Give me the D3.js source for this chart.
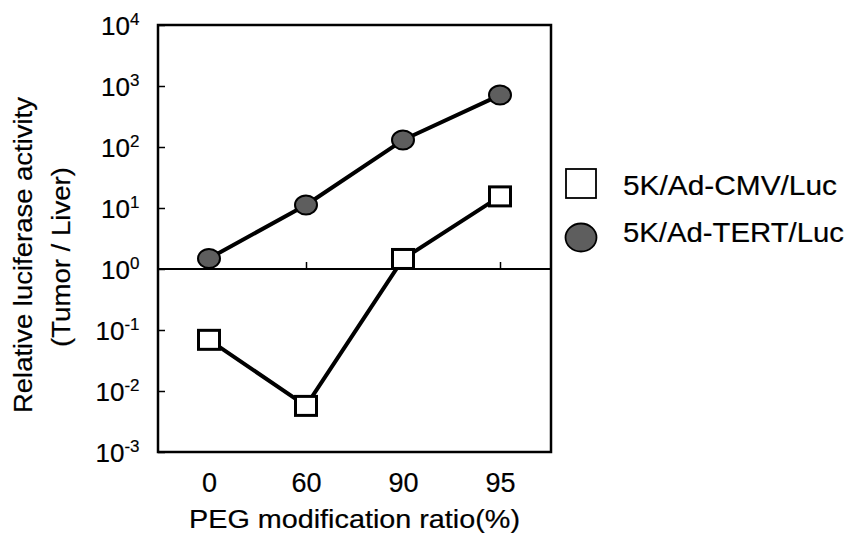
<!DOCTYPE html>
<html><head><meta charset="utf-8">
<script src="https://cdn.jsdelivr.net/npm/d3@7/dist/d3.min.js"></script>
<style>body{margin:0;background:#fff}svg{display:block}text{font-family:"Liberation Sans",Arial,sans-serif;fill:#000;stroke:#000;stroke-width:0.2px}</style>
</head><body>
<script>
const categories = ["0","60","90","95"];
const cmvValues  = [0.069, 0.0057, 1.46, 15.5];
const tertValues = [1.49, 11.2, 130, 710];
const yTickExps  = [4,3,2,1,0,-1,-2,-3];
const seriesNames = ["5K/Ad-CMV/Luc","5K/Ad-TERT/Luc"];
const xTitle = "PEG modification ratio(%)";
const yTitle1 = "Relative luciferase activity";
const yTitle2 = "(Tumor / Liver)";

const W=853,H=534;
const L=158,R=551,T=25,B=452;
const svg=d3.select("body").append("svg").attr("width",W).attr("height",H);

const x=d3.scalePoint().domain(categories).range([160.5,548.5]).padding(0.5);
const y=d3.scaleLog().domain([1e-3,1e4]).range([B,T]);

// frame
svg.append("rect").attr("x",L).attr("y",T).attr("width",R-L).attr("height",B-T)
  .attr("fill","none").attr("stroke","#000").attr("stroke-width",2.5);

// y axis ticks (inward)
const yAx=svg.append("g").attr("transform",`translate(${L},0)`)
  .call(d3.axisLeft(y).tickValues(yTickExps.map(e=>Math.pow(10,e))).tickSize(-7).tickFormat(""));
yAx.select(".domain").remove();
yAx.selectAll(".tick line").attr("stroke","#000").attr("stroke-width",1.5);

// y tick labels
yTickExps.forEach(e=>{
  const t=svg.append("text").attr("x",139.5).attr("y",y(Math.pow(10,e))+9.5)
    .attr("text-anchor","end").style("font-size","26px");
  t.append("tspan").text("10");
  t.append("tspan").style("font-size","17px").attr("dy",-9.5).text(String(e));
});

// horizontal line at 1 with x ticks
svg.append("line").attr("x1",L).attr("x2",R).attr("y1",y(1)).attr("y2",y(1))
  .attr("stroke","#000").attr("stroke-width",2);
const xAx=svg.append("g").attr("transform",`translate(0,${y(1)})`)
  .call(d3.axisTop(x).tickSize(7).tickFormat(""));
xAx.select(".domain").remove();
xAx.selectAll(".tick line").attr("stroke","#000").attr("stroke-width",1.5);

// x tick labels
const xb=svg.append("g").attr("transform",`translate(0,${B})`)
  .call(d3.axisBottom(x).tickSize(0).tickPadding(21));
xb.select(".domain").remove();
xb.selectAll("text").style("font-size","27px").style("font-family","'Liberation Sans', Arial, sans-serif").attr("fill","#000");

// axis titles
svg.append("text").attr("x",189).attr("y",528).style("font-size","25px")
  .attr("textLength",331).attr("lengthAdjust","spacingAndGlyphs").text(xTitle);
svg.append("text").attr("transform","translate(32,255) rotate(-90)").attr("text-anchor","middle")
  .style("font-size","25px").attr("textLength",316).attr("lengthAdjust","spacingAndGlyphs").text(yTitle1);
svg.append("text").attr("transform","translate(70,257) rotate(-90)").attr("text-anchor","middle")
  .style("font-size","25px").attr("textLength",180).attr("lengthAdjust","spacingAndGlyphs").text(yTitle2);

// lines
const line=d3.line().x((d,i)=>x(categories[i])).y(d=>y(d));
[cmvValues,tertValues].forEach(vals=>{
  svg.append("path").attr("d",line(vals)).attr("fill","none")
    .attr("stroke","#000").attr("stroke-width",4).attr("stroke-linejoin","round");
});

// markers
svg.selectAll(".sq").data(cmvValues).enter().append("rect")
  .attr("x",(d,i)=>x(categories[i])-10.5).attr("y",d=>y(d)-9.5)
  .attr("width",21).attr("height",19).attr("fill","#fff").attr("stroke","#000").attr("stroke-width",3);
svg.selectAll(".ci").data(tertValues).enter().append("ellipse")
  .attr("cx",(d,i)=>x(categories[i])).attr("cy",d=>y(d))
  .attr("rx",11).attr("ry",9.5).attr("fill","#5e5e5e").attr("stroke","#000").attr("stroke-width",2);

// legend
svg.append("rect").attr("x",566).attr("y",169).attr("width",30).attr("height",29)
  .attr("fill","#fff").attr("stroke","#000").attr("stroke-width",1.8);
svg.append("ellipse").attr("cx",581).attr("cy",237.5).attr("rx",15.5).attr("ry",14)
  .attr("fill","#5e5e5e").attr("stroke","#000").attr("stroke-width",1.8);
svg.append("text").attr("x",623).attr("y",195).style("font-size","28px")
  .attr("textLength",214).attr("lengthAdjust","spacingAndGlyphs").text(seriesNames[0]);
svg.append("text").attr("x",623).attr("y",242).style("font-size","28px")
  .attr("textLength",221).attr("lengthAdjust","spacingAndGlyphs").text(seriesNames[1]);
</script>
</body></html>
